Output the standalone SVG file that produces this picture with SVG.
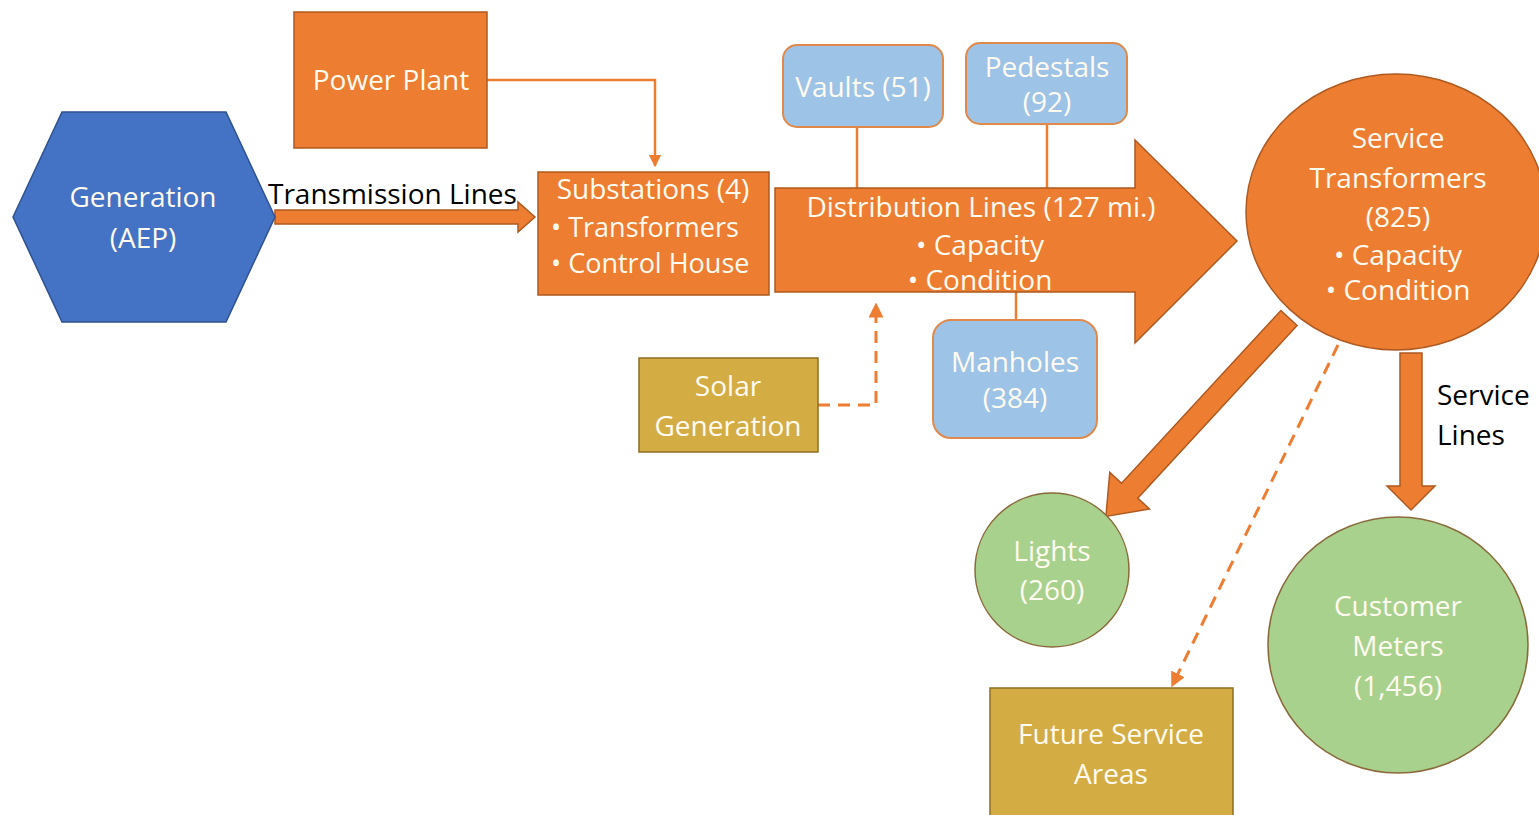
<svg xmlns="http://www.w3.org/2000/svg" width="1539" height="815" viewBox="0 0 1539 815">
<defs>
<style>
.t{font-family:"Open Sans","Noto Sans","Liberation Sans",sans-serif;font-size:28px;fill:#FFFBF0;text-anchor:middle}
.tl{font-family:"Open Sans","Noto Sans","Liberation Sans",sans-serif;font-size:27px;fill:#FFFBF0}
.k{font-family:"Open Sans","Noto Sans","Liberation Sans",sans-serif;font-size:28px;fill:#000}
.or{fill:#ED7D31;stroke:#AE5A21;stroke-width:1.5}
.bl{fill:#9DC3E6;stroke:#E0894A;stroke-width:2}
.gr{fill:#A9D18E;stroke:#8A6A3A;stroke-width:1.5}
.go{fill:#D4AC44;stroke:#8F6E22;stroke-width:1.5}
.ln{fill:none;stroke:#ED7D31;stroke-width:2.5}
.ds{fill:none;stroke:#ED7D31;stroke-width:3;stroke-dasharray:12,8}
</style>
<marker id="ah" viewBox="0 0 10 10" refX="9" refY="5" markerWidth="5" markerHeight="5" orient="auto-start-reverse">
<path d="M0,0 L10,5 L0,10 z" fill="#ED7D31"/>
</marker>
</defs>
<rect width="1539" height="815" fill="#FFFFFF"/>

<g id="connectors">
<polyline class="ln" points="487,80 655,80 655,166" marker-end="url(#ah)"/>
<polygon class="or" points="275,210 518,210 518,202 535,217 518,232 518,224 275,224"/>
<text class="k" x="268" y="204">Transmission Lines</text>
<line class="ln" x1="857" y1="127" x2="857" y2="188"/>
<line class="ln" x1="1047" y1="124" x2="1047" y2="188"/>
<line class="ln" x1="1016" y1="292" x2="1016" y2="320"/>
<polyline class="ds" points="818,405 876,405 876,304" marker-end="url(#ah)"/>
<polygon class="or" transform="translate(1289,318) rotate(132.7)" points="0,-11 235,-11 235,-27 270,0 235,27 235,11 0,11"/>
<line class="ds" x1="1338" y1="345" x2="1172" y2="686" marker-end="url(#ah)"/>
<polygon class="or" points="1400,353 1422,353 1422,486 1435,486 1411,510 1387,486 1400,486"/>
<text class="k" x="1437" y="405">Service</text>
<text class="k" x="1437" y="445">Lines</text>
</g>

<g id="generation">
<polygon points="13,217 62,112 226,112 275,217 226,322 62,322" fill="#4472C4" stroke="#2F528F" stroke-width="1.5"/>
<text class="t" x="143" y="207">Generation</text>
<text class="t" x="143" y="248">(AEP)</text>
</g>

<g id="power-plant">
<rect class="or" x="294" y="12" width="193" height="136"/>
<text class="t" x="391" y="90">Power Plant</text>
</g>

<g id="substations">
<rect class="or" x="538" y="172" width="231" height="123"/>
<text class="t" x="653" y="199">Substations (4)</text>
<text class="tl" x="551" y="237">• Transformers</text>
<text class="tl" x="551" y="273">• Control House</text>
</g>

<g id="distribution">
<polygon class="or" points="775,188 1135,188 1135,140 1237,241 1135,343 1135,292 775,292"/>
<text class="t" x="981" y="217">Distribution Lines (127 mi.)</text>
<text class="t" x="980" y="255">• Capacity</text>
<text class="t" x="980" y="290">• Condition</text>
</g>

<g id="vaults">
<rect class="bl" x="783" y="45" width="160" height="82" rx="14"/>
<text class="t" x="863" y="97">Vaults (51)</text>
</g>

<g id="pedestals">
<rect class="bl" x="966" y="43" width="161" height="81" rx="14"/>
<text class="t" x="1047" y="77">Pedestals</text>
<text class="t" x="1047" y="112">(92)</text>
</g>

<g id="manholes">
<rect class="bl" x="933" y="320" width="164" height="118" rx="18"/>
<text class="t" x="1015" y="372">Manholes</text>
<text class="t" x="1015" y="408">(384)</text>
</g>

<g id="solar">
<rect class="go" x="639" y="358" width="179" height="94"/>
<text class="t" x="728" y="396">Solar</text>
<text class="t" x="728" y="436">Generation</text>
</g>

<g id="service-transformers">
<ellipse class="or" cx="1396" cy="212" rx="150" ry="138"/>
<text class="t" x="1398" y="148">Service</text>
<text class="t" x="1398" y="188">Transformers</text>
<text class="t" x="1398" y="227">(825)</text>
<text class="t" x="1398" y="265">• Capacity</text>
<text class="t" x="1398" y="300">• Condition</text>
</g>

<g id="lights">
<circle class="gr" cx="1052" cy="570" r="77"/>
<text class="t" x="1052" y="561">Lights</text>
<text class="t" x="1052" y="600">(260)</text>
</g>

<g id="customer-meters">
<ellipse class="gr" cx="1398" cy="645" rx="130" ry="128"/>
<text class="t" x="1398" y="616">Customer</text>
<text class="t" x="1398" y="656">Meters</text>
<text class="t" x="1398" y="696">(1,456)</text>
</g>

<g id="future">
<rect class="go" x="990" y="688" width="243" height="140"/>
<text class="t" x="1111" y="744">Future Service</text>
<text class="t" x="1111" y="784">Areas</text>
</g>
</svg>
